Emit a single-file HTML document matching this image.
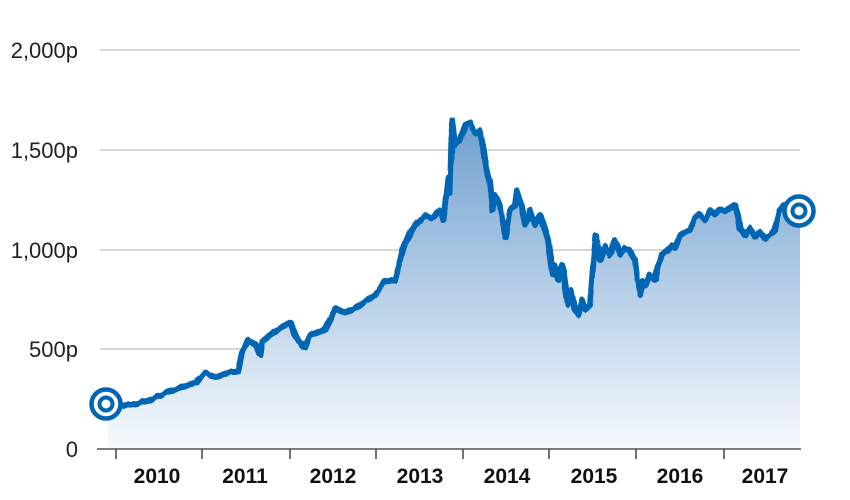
<!DOCTYPE html>
<html><head><meta charset="utf-8"><style>
html,body{margin:0;padding:0;background:#fff;}
svg{display:block;font-family:"Liberation Sans",sans-serif;}
</style></head><body>
<svg width="850" height="500" viewBox="0 0 850 500">
<defs>
<linearGradient id="g" x1="0" y1="120" x2="0" y2="449" gradientUnits="userSpaceOnUse">
<stop offset="0" stop-color="#6fa0cf"/>
<stop offset="1" stop-color="#f7fafd"/>
</linearGradient>
<filter id="j" x="-5%" y="-5%" width="110%" height="110%">
<feTurbulence type="fractalNoise" baseFrequency="0.2 0.03" numOctaves="1" seed="3" result="n"/>
<feDisplacementMap in="SourceGraphic" in2="n" scale="4" xChannelSelector="R" yChannelSelector="G"/>
</filter>
</defs>
<g stroke="#bdbdbd" stroke-width="1.2">
<line x1="100" y1="50" x2="800" y2="50"/>
<line x1="100" y1="150" x2="800" y2="150"/>
<line x1="100" y1="250" x2="800" y2="250"/>
<line x1="100" y1="349" x2="800" y2="349"/>
</g>
<g font-size="22" fill="#222" text-anchor="end">
<text x="78" y="58">2,000p</text>
<text x="78" y="158">1,500p</text>
<text x="78" y="258">1,000p</text>
<text x="78" y="357">500p</text>
<text x="78" y="457">0</text>
</g>
<polygon fill="url(#g)" points="108,449 108,404 120,406 135,404 150,400 165,393 180,388 195,383 205,373 215,377 230,372 238,372 242,352 248,340 255,345 260,355 262,342 270,335 285,325 290,322 295,335 305,348 310,335 325,330 335,308 345,313 360,305 375,295 385,282 395,280 400,262 405,243 415,225 425,215 432,218 440,210 443,220 446,196 448,178 450,193 452,120 455,145 460,140 465,125 470,122 475,133 480,130 483,148 486,168 490,182 493,210 495,195 500,205 503,225 506,237 510,210 515,205 517,190 520,200 525,225 528,220 530,210 535,225 540,215 545,230 548,240 550,255 553,275 555,265 558,280 562,265 565,285 568,305 571,290 575,310 578,315 582,300 585,310 590,305 594,255 596,235 600,260 605,245 610,255 615,240 620,255 625,248 630,250 635,260 638,285 640,295 643,280 646,285 650,275 655,280 658,265 662,255 668,250 672,245 675,248 680,235 690,230 695,218 700,215 705,220 710,210 715,215 720,210 725,212 730,208 735,205 738,215 740,228 745,235 750,228 755,237 760,232 765,238 770,235 775,230 780,210 785,205 795,208 800,212 800,449"/>
<polyline filter="url(#j)" fill="none" stroke="#0066b3" stroke-width="6" stroke-linejoin="round" stroke-linecap="round" points="108,404 120,406 135,404 150,400 165,393 180,388 195,383 205,373 215,377 230,372 238,372 242,352 248,340 255,345 260,355 262,342 270,335 285,325 290,322 295,335 305,348 310,335 325,330 335,308 345,313 360,305 375,295 385,282 395,280 400,262 405,243 415,225 425,215 432,218 440,210 443,220 446,196 448,178 450,193 452,120 455,145 460,140 465,125 470,122 475,133 480,130 483,148 486,168 490,182 493,210 495,195 500,205 503,225 506,237 510,210 515,205 517,190 520,200 525,225 528,220 530,210 535,225 540,215 545,230 548,240 550,255 553,275 555,265 558,280 562,265 565,285 568,305 571,290 575,310 578,315 582,300 585,310 590,305 594,255 596,235 600,260 605,245 610,255 615,240 620,255 625,248 630,250 635,260 638,285 640,295 643,280 646,285 650,275 655,280 658,265 662,255 668,250 672,245 675,248 680,235 690,230 695,218 700,215 705,220 710,210 715,215 720,210 725,212 730,208 735,205 738,215 740,228 745,235 750,228 755,237 760,232 765,238 770,235 775,230 780,210 785,205 795,208 800,212"/>
<g fill="#fff" stroke="#0066b3">
<circle cx="106" cy="404" r="14.5" stroke-width="4.5"/>
<circle cx="106" cy="404" r="6.5" stroke-width="4"/>
<circle cx="799" cy="211" r="14.5" stroke-width="4.5"/>
<circle cx="799" cy="211" r="6.5" stroke-width="4"/>
</g>
<line x1="97" y1="449" x2="801" y2="449" stroke="#555" stroke-width="1.5"/>
<g stroke="#444" stroke-width="1.5">
<line x1="116" y1="449" x2="116" y2="459"/>
<line x1="202" y1="449" x2="202" y2="459"/>
<line x1="290" y1="449" x2="290" y2="459"/>
<line x1="376" y1="449" x2="376" y2="459"/>
<line x1="463" y1="449" x2="463" y2="459"/>
<line x1="549" y1="449" x2="549" y2="459"/>
<line x1="636" y1="449" x2="636" y2="459"/>
<line x1="724" y1="449" x2="724" y2="459"/>
</g>
<g font-size="21" font-weight="bold" fill="#111" text-anchor="middle">
<text x="157" y="483">2010</text>
<text x="245" y="483">2011</text>
<text x="333" y="483">2012</text>
<text x="420" y="483">2013</text>
<text x="507" y="483">2014</text>
<text x="594" y="483">2015</text>
<text x="680" y="483">2016</text>
<text x="765" y="483">2017</text>
</g>
</svg>
</body></html>
